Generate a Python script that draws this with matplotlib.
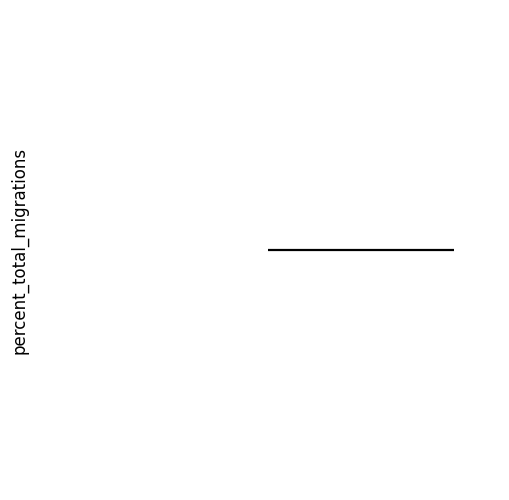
import matplotlib
matplotlib.use("Agg")
import matplotlib.pyplot as plt

x_values = [0.483, 0.917]
percent_total_migrations = [0.5, 0.5]

fig = plt.figure(figsize=(5.1, 5.0), dpi=100)
ax = fig.add_axes([0.118, 0.1, 0.842, 0.8])
ax.plot(x_values, percent_total_migrations, color="black", linewidth=1.6, solid_capstyle="butt")
ax.set_xlim(0, 1)
ax.set_ylim(0, 1)
ax.set_xticks([])
ax.set_yticks([])
for s in ax.spines.values():
    s.set_visible(False)
ax.set_ylabel("percent_total_migrations", fontsize=12)
ax.yaxis.set_label_coords(-0.073, 0.5)
fig.savefig("out.png", dpi=100)
